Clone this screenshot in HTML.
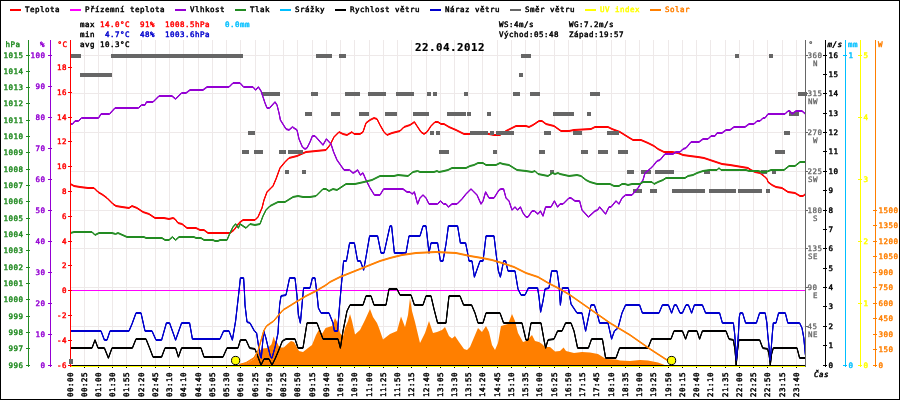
<!DOCTYPE html>
<html lang="cs"><head><meta charset="utf-8"><title>22.04.2012</title>
<style>html,body{margin:0;padding:0;background:#fff}svg{display:block;will-change:transform}text{font-family:"DejaVu Sans Mono","Liberation Mono",monospace;font-size:7.5px;white-space:pre;stroke-width:0.45px;letter-spacing:0.485px}.t{font-family:"DejaVu Sans Mono","Liberation Mono",monospace;font-weight:bold;font-size:10.8px;letter-spacing:0.5px;stroke-width:0.2px}.i{font-style:italic}</style></head><body>
<svg width="900" height="400" viewBox="0 0 900 400">
<rect x="0" y="0" width="900" height="400" fill="#fff"/>
<g stroke="#eee9e9" stroke-width="1" shape-rendering="crispEdges">
<line x1="84.5" y1="40" x2="84.5" y2="365"/>
<line x1="98.5" y1="40" x2="98.5" y2="365"/>
<line x1="112.5" y1="40" x2="112.5" y2="365"/>
<line x1="126.5" y1="40" x2="126.5" y2="365"/>
<line x1="141.5" y1="40" x2="141.5" y2="365"/>
<line x1="155.5" y1="40" x2="155.5" y2="365"/>
<line x1="169.5" y1="40" x2="169.5" y2="365"/>
<line x1="183.5" y1="40" x2="183.5" y2="365"/>
<line x1="198.5" y1="40" x2="198.5" y2="365"/>
<line x1="212.5" y1="40" x2="212.5" y2="365"/>
<line x1="226.5" y1="40" x2="226.5" y2="365"/>
<line x1="240.5" y1="40" x2="240.5" y2="365"/>
<line x1="255.5" y1="40" x2="255.5" y2="365"/>
<line x1="269.5" y1="40" x2="269.5" y2="365"/>
<line x1="283.5" y1="40" x2="283.5" y2="365"/>
<line x1="297.5" y1="40" x2="297.5" y2="365"/>
<line x1="312.5" y1="40" x2="312.5" y2="365"/>
<line x1="326.5" y1="40" x2="326.5" y2="365"/>
<line x1="340.5" y1="40" x2="340.5" y2="365"/>
<line x1="354.5" y1="40" x2="354.5" y2="365"/>
<line x1="369.5" y1="40" x2="369.5" y2="365"/>
<line x1="383.5" y1="40" x2="383.5" y2="365"/>
<line x1="397.5" y1="40" x2="397.5" y2="365"/>
<line x1="411.5" y1="40" x2="411.5" y2="365"/>
<line x1="426.5" y1="40" x2="426.5" y2="365"/>
<line x1="440.5" y1="40" x2="440.5" y2="365"/>
<line x1="454.5" y1="40" x2="454.5" y2="365"/>
<line x1="468.5" y1="40" x2="468.5" y2="365"/>
<line x1="482.5" y1="40" x2="482.5" y2="365"/>
<line x1="497.5" y1="40" x2="497.5" y2="365"/>
<line x1="511.5" y1="40" x2="511.5" y2="365"/>
<line x1="525.5" y1="40" x2="525.5" y2="365"/>
<line x1="539.5" y1="40" x2="539.5" y2="365"/>
<line x1="554.5" y1="40" x2="554.5" y2="365"/>
<line x1="568.5" y1="40" x2="568.5" y2="365"/>
<line x1="582.5" y1="40" x2="582.5" y2="365"/>
<line x1="596.5" y1="40" x2="596.5" y2="365"/>
<line x1="611.5" y1="40" x2="611.5" y2="365"/>
<line x1="625.5" y1="40" x2="625.5" y2="365"/>
<line x1="639.5" y1="40" x2="639.5" y2="365"/>
<line x1="653.5" y1="40" x2="653.5" y2="365"/>
<line x1="668.5" y1="40" x2="668.5" y2="365"/>
<line x1="682.5" y1="40" x2="682.5" y2="365"/>
<line x1="696.5" y1="40" x2="696.5" y2="365"/>
<line x1="710.5" y1="40" x2="710.5" y2="365"/>
<line x1="725.5" y1="40" x2="725.5" y2="365"/>
<line x1="739.5" y1="40" x2="739.5" y2="365"/>
<line x1="753.5" y1="40" x2="753.5" y2="365"/>
<line x1="767.5" y1="40" x2="767.5" y2="365"/>
<line x1="782.5" y1="40" x2="782.5" y2="365"/>
<line x1="796.5" y1="40" x2="796.5" y2="365"/>
<line x1="70" y1="55.5" x2="806" y2="55.5"/>
<line x1="70" y1="93.5" x2="806" y2="93.5"/>
<line x1="70" y1="132.5" x2="806" y2="132.5"/>
<line x1="70" y1="171.5" x2="806" y2="171.5"/>
<line x1="70" y1="210.5" x2="806" y2="210.5"/>
<line x1="70" y1="248.5" x2="806" y2="248.5"/>
<line x1="70" y1="287.5" x2="806" y2="287.5"/>
<line x1="70" y1="326.5" x2="806" y2="326.5"/>
</g>
<polygon fill="#ff7f00" points="238.0,365.5 246.5,363.5 253.7,359.3 256.5,355.7 258.7,351.4 262.3,348.6 268.0,347.9 271.5,344.3 273.7,336.4 275.0,340.7 277.3,342.9 279.4,347.4 283.7,347.4 288.0,343.6 291.0,341.0 294.0,342.0 299.0,351.0 303.0,352.0 308.0,348.0 312.0,345.0 316.0,335.0 319.0,329.4 322.0,334.0 325.6,328.0 332.0,326.0 335.0,318.0 337.6,323.0 340.0,333.0 343.0,336.6 345.0,328.0 348.0,321.0 350.0,314.0 352.0,321.0 355.0,334.6 360.0,330.0 365.0,320.0 370.0,309.0 373.0,317.0 377.0,323.0 379.0,328.0 383.0,339.4 390.0,334.0 397.0,331.0 401.0,316.6 405.0,327.0 408.0,315.0 410.0,298.0 412.0,311.0 415.0,322.0 420.0,343.0 425.0,333.0 429.0,321.0 433.0,333.0 437.0,332.0 442.0,330.0 445.0,327.0 449.0,336.0 452.0,338.6 455.0,336.0 459.0,342.0 464.0,349.0 467.0,350.0 470.0,347.0 474.0,337.4 478.0,328.0 482.0,332.0 486.0,326.0 489.0,332.0 492.0,345.0 495.0,350.0 498.0,343.0 501.0,326.0 508.0,324.0 512.0,314.0 515.0,321.0 518.0,333.0 523.0,342.0 526.0,341.0 532.0,335.0 535.0,341.0 539.0,342.0 542.0,344.0 545.0,347.0 550.0,347.0 555.0,351.6 560.0,351.0 563.6,347.4 566.0,351.0 574.0,353.0 582.0,352.0 590.0,352.6 598.0,354.0 606.0,359.0 616.0,359.4 620.0,360.6 630.0,361.0 640.0,360.0 648.0,360.6 658.0,362.6 666.0,365.5"/>
<line x1="70" y1="290.5" x2="805" y2="290.5" stroke="#ff00ff" stroke-width="1" shape-rendering="crispEdges"/>
<g fill="none" stroke="#ff0000" stroke-width="1" stroke-linejoin="round"><polyline id="c1" points="70.5,184.0 74.0,186.0 80.0,187.0 88.0,188.0 94.0,188.0 98.0,192.0 103.0,195.0 107.0,198.0 113.0,204.0 116.0,206.0 122.0,207.0 129.0,208.0 132.0,206.0 137.0,208.0 143.0,212.0 149.0,214.0 155.0,218.0 164.0,218.0 169.0,219.0 173.0,218.0 175.0,219.0 178.0,223.0 182.0,224.0 187.0,228.0 196.0,228.0 200.0,230.0 204.0,230.0 208.0,233.0 230.0,233.0 234.0,230.0 239.0,223.0 243.0,220.0 255.0,220.0 258.0,217.0 262.0,208.0 264.0,200.0 267.0,192.0 271.0,188.0 273.0,186.0 276.0,179.0 280.0,168.0 285.0,162.0 289.0,158.0 297.0,156.0 306.0,152.0 326.0,150.0 330.0,145.0 334.0,137.0 339.0,132.0 343.0,134.0 347.0,135.0 352.0,132.0 354.0,134.0 360.0,134.0 363.0,132.0 366.0,123.0 370.0,120.0 374.0,118.0 377.0,119.0 380.0,125.0 384.0,132.0 387.0,135.0 392.0,133.0 400.0,131.0 404.0,127.0 410.0,125.0 414.4,122.0 417.0,126.0 421.0,132.0 424.0,134.0 427.0,132.0 431.0,126.0 435.0,122.0 438.0,122.0 441.0,124.0 444.0,124.0 449.0,127.0 456.0,130.0 464.0,134.0 480.0,134.0 489.0,134.0 494.0,135.0 500.0,135.0 506.0,131.0 512.0,128.0 516.0,126.0 526.0,126.0 529.0,127.0 533.0,125.0 539.0,121.0 542.0,121.0 546.0,124.0 554.0,126.0 561.0,131.0 569.0,131.0 574.0,130.0 591.0,129.0 595.0,127.0 608.0,127.0 612.0,129.0 620.0,132.0 628.0,137.0 633.0,140.0 641.0,140.0 648.0,143.0 654.0,146.0 658.0,149.0 664.0,152.0 672.0,152.0 678.0,153.0 683.0,155.0 690.0,156.0 698.0,157.0 704.0,158.0 710.0,160.0 716.0,162.0 722.0,164.0 730.0,165.0 736.0,166.0 742.0,167.0 748.0,168.0 751.0,170.0 755.0,172.0 760.0,173.0 764.0,176.0 767.0,179.0 768.0,182.0 772.0,185.0 776.0,187.0 782.0,188.0 788.0,192.0 795.0,193.0 800.0,196.0 803.0,196.0 805.5,194.0"/><use href="#c1" y="-0.5"/><use href="#c1" y="0.5"/></g>
<g fill="#666666" shape-rendering="crispEdges">
<rect x="70" y="54" width="11" height="4"/>
<rect x="111" y="54" width="132" height="4"/>
<rect x="316" y="54" width="16" height="4"/>
<rect x="339" y="54" width="7" height="4"/>
<rect x="521" y="54" width="10" height="4"/>
<rect x="735" y="54" width="4" height="4"/>
<rect x="769" y="54" width="4" height="4"/>
<rect x="80" y="73" width="32" height="4"/>
<rect x="519" y="73" width="4" height="4"/>
<rect x="262" y="92" width="18" height="4"/>
<rect x="311" y="92" width="7" height="4"/>
<rect x="345" y="92" width="15" height="4"/>
<rect x="368" y="92" width="18" height="4"/>
<rect x="396" y="92" width="18" height="4"/>
<rect x="427" y="92" width="4" height="4"/>
<rect x="433" y="92" width="4" height="4"/>
<rect x="464" y="92" width="4" height="4"/>
<rect x="513" y="92" width="7" height="4"/>
<rect x="530" y="92" width="10" height="4"/>
<rect x="590" y="92" width="10" height="4"/>
<rect x="798" y="92" width="9" height="4"/>
<rect x="305" y="112" width="7" height="4"/>
<rect x="331" y="112" width="9" height="4"/>
<rect x="359" y="112" width="10" height="4"/>
<rect x="385" y="112" width="12" height="4"/>
<rect x="413" y="112" width="16" height="4"/>
<rect x="447" y="112" width="19" height="4"/>
<rect x="467" y="112" width="4" height="4"/>
<rect x="487" y="112" width="4" height="4"/>
<rect x="553" y="112" width="21" height="4"/>
<rect x="587" y="112" width="4" height="4"/>
<rect x="789" y="112" width="10" height="4"/>
<rect x="248" y="131" width="7" height="4"/>
<rect x="430" y="131" width="4" height="4"/>
<rect x="436" y="131" width="4" height="4"/>
<rect x="470" y="131" width="18" height="4"/>
<rect x="490" y="131" width="4" height="4"/>
<rect x="496" y="131" width="18" height="4"/>
<rect x="544" y="131" width="7" height="4"/>
<rect x="573" y="131" width="9" height="4"/>
<rect x="607" y="131" width="12" height="4"/>
<rect x="784" y="131" width="6" height="4"/>
<rect x="242" y="150" width="7" height="4"/>
<rect x="254" y="150" width="9" height="4"/>
<rect x="279" y="150" width="7" height="4"/>
<rect x="288" y="150" width="15" height="4"/>
<rect x="439" y="150" width="10" height="4"/>
<rect x="493" y="150" width="4" height="4"/>
<rect x="539" y="150" width="6" height="4"/>
<rect x="581" y="150" width="7" height="4"/>
<rect x="598" y="150" width="10" height="4"/>
<rect x="618" y="150" width="10" height="4"/>
<rect x="775" y="150" width="10" height="4"/>
<rect x="285" y="170" width="4" height="4"/>
<rect x="302" y="170" width="4" height="4"/>
<rect x="550" y="170" width="4" height="4"/>
<rect x="627" y="170" width="7" height="4"/>
<rect x="641" y="170" width="10" height="4"/>
<rect x="655" y="170" width="19" height="4"/>
<rect x="704" y="170" width="6" height="4"/>
<rect x="761" y="170" width="6" height="4"/>
<rect x="772" y="170" width="4" height="4"/>
<rect x="633" y="189" width="9" height="4"/>
<rect x="650" y="189" width="7" height="4"/>
<rect x="672" y="189" width="33" height="4"/>
<rect x="709" y="189" width="27" height="4"/>
<rect x="738" y="189" width="24" height="4"/>
<rect x="766" y="189" width="4" height="4"/>
</g>
<g fill="none" stroke="#9400d3" stroke-width="1" stroke-linejoin="round"><polyline id="c2" points="70.5,124.0 72.5,124.0 75.0,121.0 78.5,121.0 81.5,118.0 98.5,118.0 101.0,114.0 109.5,114.0 115.0,108.0 138.5,108.0 141.5,105.0 145.0,105.0 146.5,102.0 153.0,102.0 159.0,96.0 172.0,96.0 175.6,99.0 181.6,93.0 186.0,93.0 190.0,90.0 203.0,90.0 207.0,87.0 229.0,87.0 233.0,83.0 240.0,83.0 243.6,87.0 253.0,87.0 255.6,90.0 258.4,87.0 261.0,91.0 263.0,97.0 265.0,103.0 267.0,108.0 269.6,108.0 275.0,102.0 277.0,105.0 279.0,113.0 280.4,120.0 286.0,129.0 289.0,130.0 292.4,127.0 297.0,130.0 299.0,139.0 302.4,147.0 305.0,149.0 307.0,148.0 310.0,142.0 312.4,136.0 315.0,136.0 323.0,145.0 326.4,139.0 331.0,144.0 333.6,152.0 337.0,160.0 344.0,170.0 349.6,170.0 353.0,173.0 355.0,172.0 357.6,170.0 360.4,175.0 363.0,173.0 366.0,180.0 370.0,188.0 374.4,195.0 380.0,195.0 383.6,189.0 403.0,189.0 407.0,192.0 410.0,192.0 412.0,194.0 414.4,192.0 417.6,204.0 420.0,198.0 423.0,195.0 426.0,198.0 429.0,204.0 437.6,204.0 440.4,201.0 443.6,204.0 446.0,204.0 448.4,207.0 452.0,204.0 457.0,204.0 462.0,199.0 466.0,194.0 471.0,189.0 473.0,191.0 477.0,195.0 481.0,204.0 483.0,201.0 485.6,192.0 489.0,198.0 494.0,198.0 499.0,190.0 501.0,189.0 503.6,189.0 506.0,198.0 509.0,201.0 512.0,210.0 515.0,207.0 517.6,210.0 520.4,207.0 523.0,213.0 526.0,217.0 528.0,217.0 532.0,211.0 534.4,211.0 538.0,214.0 540.4,211.0 543.0,216.0 545.6,207.0 551.0,207.0 554.4,201.0 557.6,207.0 560.0,204.0 563.0,204.0 569.0,198.0 571.0,198.0 575.0,201.0 579.6,201.0 582.0,210.0 588.4,217.0 595.0,211.0 597.6,210.0 599.6,207.0 605.6,214.0 609.0,207.0 611.0,207.0 616.0,201.0 619.0,204.0 622.0,198.0 625.6,195.0 632.0,195.0 638.0,188.0 643.0,180.0 645.0,173.0 650.0,169.0 653.0,166.0 657.0,161.0 660.0,160.0 665.0,154.0 673.0,154.0 676.0,152.0 680.0,152.0 683.0,149.0 686.0,148.0 691.0,142.0 699.0,142.0 703.0,139.0 708.0,139.0 711.0,136.0 715.0,136.0 717.0,133.0 722.0,133.0 726.0,130.0 730.0,130.0 734.0,127.0 745.0,127.0 749.0,124.0 754.0,124.0 757.0,121.0 760.0,121.0 763.0,118.0 765.0,118.0 768.0,114.0 785.0,114.0 788.0,111.0 790.0,111.0 792.0,114.0 796.0,111.0 802.0,111.0 805.5,114.0"/><use href="#c2" y="-0.5"/><use href="#c2" y="0.5"/></g>
<g fill="none" stroke="#228b22" stroke-width="1" stroke-linejoin="round"><polyline id="c3" points="70.5,233.0 74.0,232.0 92.0,232.0 95.0,235.0 99.0,233.0 112.0,233.0 115.6,234.0 118.0,233.0 127.0,237.0 144.0,237.0 146.0,238.0 162.0,238.0 165.0,240.0 169.0,240.0 172.4,237.0 175.6,240.0 179.0,237.0 194.0,237.0 196.0,238.0 201.0,238.0 204.0,240.0 213.0,240.0 215.0,241.0 218.0,241.0 220.0,240.0 227.0,240.0 230.0,233.0 233.0,227.0 235.6,224.0 238.4,228.0 240.0,224.0 243.0,226.0 246.0,228.0 250.0,224.0 255.0,225.0 260.0,224.0 263.0,216.0 266.0,210.0 270.0,206.0 278.0,202.0 285.0,202.0 293.0,197.0 298.0,196.0 303.0,197.0 310.0,197.0 316.0,196.0 323.0,189.0 326.0,189.0 329.0,191.0 333.0,189.0 337.0,190.0 346.0,184.0 355.0,184.0 364.0,182.0 372.0,180.0 380.0,176.0 390.0,176.0 394.0,176.0 398.0,175.0 408.0,176.0 413.0,172.0 417.6,171.0 420.0,172.0 434.0,172.0 437.0,171.0 439.0,172.0 444.0,171.0 448.0,170.0 452.0,168.0 466.0,168.0 470.0,166.0 474.0,165.0 478.0,163.0 483.0,163.0 486.0,165.0 496.0,165.0 500.0,163.0 503.0,164.0 509.0,165.0 517.0,170.0 526.0,171.0 532.0,172.0 535.0,171.0 538.0,174.0 548.0,176.0 552.4,173.0 555.0,174.0 558.0,173.0 560.0,174.0 569.0,176.0 577.0,175.0 581.0,176.0 586.0,180.0 590.0,182.0 597.0,184.0 610.0,184.0 614.0,186.0 619.0,186.0 622.0,184.0 625.0,184.0 628.0,185.0 632.0,184.0 640.0,184.0 643.0,182.0 652.0,182.0 654.0,184.0 658.0,182.0 663.0,180.0 666.0,178.0 685.0,178.0 688.0,176.0 693.0,175.0 697.0,173.0 700.0,172.0 703.0,171.0 710.0,170.0 717.0,170.0 719.0,168.0 721.0,170.0 746.0,170.0 749.0,171.0 758.0,171.0 762.0,172.0 766.0,172.0 771.0,170.0 784.0,170.0 789.0,166.0 795.0,166.0 800.0,162.0 805.5,162.0"/><use href="#c3" y="-0.5"/><use href="#c3" y="0.5"/></g>
<g fill="none" stroke="#000000" stroke-width="1" stroke-linejoin="round"><polyline id="c4" points="70.5,348.0 92.0,348.0 95.0,340.0 98.0,348.0 104.4,348.0 108.4,358.0 112.0,348.0 132.4,348.0 136.0,339.0 146.0,339.0 149.6,348.0 153.0,357.0 161.6,357.0 165.0,348.0 175.6,348.0 178.4,357.0 181.6,348.0 201.0,348.0 204.0,357.0 223.0,357.0 227.0,348.0 238.0,348.0 240.4,340.0 246.0,340.0 249.6,348.0 255.0,349.0 258.0,357.0 261.0,365.0 264.0,359.0 269.0,359.0 272.0,365.0 275.0,359.0 278.0,352.0 282.4,341.0 286.0,339.0 295.0,339.0 298.0,348.0 303.0,348.0 307.0,323.0 317.0,323.0 323.0,339.0 338.0,339.0 340.4,348.0 343.0,331.0 347.0,311.0 350.0,305.0 363.0,305.0 366.0,296.0 371.0,296.0 374.0,305.0 386.0,305.0 389.0,289.0 397.0,289.0 400.0,295.0 411.0,295.0 414.4,305.0 423.0,305.0 426.0,296.0 431.0,296.0 434.0,309.0 437.6,323.0 446.0,323.0 449.0,296.0 460.0,296.0 463.6,305.0 471.6,305.0 475.0,313.0 478.0,323.0 483.0,323.0 486.0,313.0 500.0,313.0 503.6,323.0 522.0,323.0 526.0,340.0 528.0,340.0 531.0,323.0 541.0,323.0 544.0,340.0 545.6,348.0 548.0,340.0 554.0,339.0 557.6,331.0 562.0,331.0 565.6,323.0 571.0,323.0 574.0,331.0 577.6,348.0 588.4,348.0 591.6,339.0 602.4,339.0 605.6,358.0 616.0,358.0 619.6,348.0 648.0,348.0 651.6,339.0 671.0,339.0 674.0,331.0 682.4,331.0 685.6,339.0 688.4,331.0 697.0,331.0 699.6,339.0 702.4,331.0 726.0,331.0 729.0,339.0 733.4,340.0 735.0,350.0 736.2,365.0 737.6,350.0 738.8,340.0 759.7,340.0 762.7,348.0 767.7,349.0 769.1,355.0 770.3,365.0 771.6,354.0 773.3,348.0 797.0,348.0 799.6,358.0 805.5,358.0"/><use href="#c4" y="-0.5"/><use href="#c4" y="0.5"/></g>
<g fill="none" stroke="#0000cd" stroke-width="1" stroke-linejoin="round"><polyline id="c5" points="70.5,331.0 101.0,331.0 104.4,340.0 107.0,340.0 110.0,331.0 129.0,331.0 132.0,324.0 136.0,313.0 141.0,313.0 145.0,331.0 152.0,331.0 156.0,340.0 161.6,340.0 166.4,323.0 169.6,323.0 175.6,340.0 181.6,323.0 189.6,323.0 192.4,339.0 220.0,339.0 223.6,331.0 229.0,331.0 232.4,340.0 235.6,321.0 239.0,291.0 240.4,278.0 243.6,278.0 244.4,291.0 245.0,305.0 247.0,322.0 250.0,323.0 254.4,331.0 256.6,333.0 258.7,347.0 260.6,357.0 261.3,358.0 263.7,331.0 265.9,338.0 268.0,347.0 270.6,357.0 272.0,358.0 275.1,347.0 278.0,333.0 279.6,305.0 281.0,296.0 286.0,295.0 289.6,278.0 295.0,278.0 297.0,296.0 298.4,315.0 300.4,323.0 302.0,305.0 303.6,288.0 310.0,288.0 312.4,278.0 315.0,278.0 317.0,294.0 318.4,308.0 321.0,313.0 329.0,313.0 333.0,323.0 334.4,331.0 337.6,331.0 339.6,305.0 341.0,289.0 343.6,261.0 346.4,261.0 349.6,243.0 354.4,243.0 357.6,261.0 360.4,261.0 363.6,270.0 366.0,257.0 369.6,236.0 377.6,236.0 381.0,253.0 384.0,253.0 390.0,226.0 391.6,226.0 394.4,253.0 406.0,253.0 409.0,236.0 420.0,236.0 423.0,226.0 426.0,226.0 428.0,244.0 429.0,253.0 431.0,243.0 437.6,243.0 440.4,261.0 443.0,261.0 446.0,244.0 448.4,226.0 457.6,226.0 460.4,243.0 465.6,243.0 467.6,253.0 469.0,261.0 472.0,261.0 474.4,277.0 480.0,261.0 483.0,261.0 484.0,253.0 486.0,236.0 494.0,236.0 496.0,253.0 497.0,261.0 498.4,271.0 500.4,277.0 503.6,261.0 505.6,261.0 508.0,271.0 515.0,271.0 518.0,289.0 521.0,295.0 525.0,295.0 528.4,288.0 537.6,288.0 539.0,297.0 540.6,312.0 543.0,301.0 545.0,289.0 549.0,288.0 551.6,271.0 557.0,271.0 559.0,285.0 560.4,305.0 562.4,288.0 568.4,288.0 571.0,304.0 577.0,313.0 582.0,313.0 585.6,331.0 591.0,305.0 594.4,305.0 597.0,313.0 599.6,323.0 608.0,323.0 611.6,339.0 614.4,331.0 618.0,328.0 622.0,313.0 625.6,305.0 639.6,305.0 642.4,313.0 659.0,313.0 662.4,305.0 668.4,305.0 671.6,313.0 674.4,305.0 676.4,305.0 680.0,313.0 682.4,313.0 686.0,305.0 688.4,305.0 691.6,313.0 694.4,305.0 702.4,305.0 705.6,313.0 719.6,313.0 722.4,323.0 733.4,323.0 734.7,334.0 735.9,350.0 736.4,360.0 737.2,350.0 738.4,334.0 739.3,317.0 740.1,313.0 742.6,313.0 745.6,323.0 756.4,323.0 759.6,313.0 765.2,313.0 766.9,323.0 767.7,334.0 769.4,350.0 770.2,360.0 771.1,350.0 772.3,334.0 773.3,323.0 776.0,323.0 778.6,313.0 785.3,313.0 787.8,323.0 799.6,323.0 802.0,328.0 803.8,338.0 805.4,355.0"/><use href="#c5" y="-0.5"/><use href="#c5" y="0.5"/></g>
<g fill="none" stroke="#ff7f00" stroke-width="1" stroke-linejoin="round"><polyline id="c6" points="239.0,365.0 246.0,363.0 254.0,358.0 258.0,351.0 260.0,344.0 263.7,331.0 266.5,326.0 273.7,321.0 278.7,315.0 283.0,310.0 288.0,307.0 296.0,302.0 306.0,296.0 316.0,291.0 326.0,285.0 330.0,282.0 340.0,277.0 350.0,273.0 360.0,269.0 370.0,265.0 380.0,261.0 390.0,258.0 402.0,255.0 416.0,253.0 436.0,252.0 456.0,253.0 470.0,256.0 482.0,258.0 492.0,260.0 502.0,263.0 514.0,267.0 526.0,273.0 538.0,277.0 550.0,284.0 560.0,289.0 570.0,295.0 590.0,309.0 610.0,323.0 630.0,335.0 650.0,349.0 670.0,362.0"/><use href="#c6" y="-0.5"/><use href="#c6" y="0.5"/></g>
<g shape-rendering="crispEdges">
<rect x="70" y="366" width="736" height="1" fill="#ffff00"/>
<rect x="70" y="365" width="736" height="1" fill="#000"/>
<rect x="84" y="367" width="1" height="1" fill="#000"/>
<rect x="98" y="367" width="1" height="1" fill="#000"/>
<rect x="112" y="367" width="1" height="1" fill="#000"/>
<rect x="126" y="367" width="1" height="1" fill="#000"/>
<rect x="141" y="367" width="1" height="1" fill="#000"/>
<rect x="155" y="367" width="1" height="1" fill="#000"/>
<rect x="169" y="367" width="1" height="1" fill="#000"/>
<rect x="183" y="367" width="1" height="1" fill="#000"/>
<rect x="198" y="367" width="1" height="1" fill="#000"/>
<rect x="212" y="367" width="1" height="1" fill="#000"/>
<rect x="226" y="367" width="1" height="1" fill="#000"/>
<rect x="240" y="367" width="1" height="1" fill="#000"/>
<rect x="255" y="367" width="1" height="1" fill="#000"/>
<rect x="269" y="367" width="1" height="1" fill="#000"/>
<rect x="283" y="367" width="1" height="1" fill="#000"/>
<rect x="297" y="367" width="1" height="1" fill="#000"/>
<rect x="312" y="367" width="1" height="1" fill="#000"/>
<rect x="326" y="367" width="1" height="1" fill="#000"/>
<rect x="340" y="367" width="1" height="1" fill="#000"/>
<rect x="354" y="367" width="1" height="1" fill="#000"/>
<rect x="369" y="367" width="1" height="1" fill="#000"/>
<rect x="383" y="367" width="1" height="1" fill="#000"/>
<rect x="397" y="367" width="1" height="1" fill="#000"/>
<rect x="411" y="367" width="1" height="1" fill="#000"/>
<rect x="426" y="367" width="1" height="1" fill="#000"/>
<rect x="440" y="367" width="1" height="1" fill="#000"/>
<rect x="454" y="367" width="1" height="1" fill="#000"/>
<rect x="468" y="367" width="1" height="1" fill="#000"/>
<rect x="482" y="367" width="1" height="1" fill="#000"/>
<rect x="497" y="367" width="1" height="1" fill="#000"/>
<rect x="511" y="367" width="1" height="1" fill="#000"/>
<rect x="525" y="367" width="1" height="1" fill="#000"/>
<rect x="539" y="367" width="1" height="1" fill="#000"/>
<rect x="554" y="367" width="1" height="1" fill="#000"/>
<rect x="568" y="367" width="1" height="1" fill="#000"/>
<rect x="582" y="367" width="1" height="1" fill="#000"/>
<rect x="596" y="367" width="1" height="1" fill="#000"/>
<rect x="611" y="367" width="1" height="1" fill="#000"/>
<rect x="625" y="367" width="1" height="1" fill="#000"/>
<rect x="639" y="367" width="1" height="1" fill="#000"/>
<rect x="653" y="367" width="1" height="1" fill="#000"/>
<rect x="668" y="367" width="1" height="1" fill="#000"/>
<rect x="682" y="367" width="1" height="1" fill="#000"/>
<rect x="696" y="367" width="1" height="1" fill="#000"/>
<rect x="710" y="367" width="1" height="1" fill="#000"/>
<rect x="725" y="367" width="1" height="1" fill="#000"/>
<rect x="739" y="367" width="1" height="1" fill="#000"/>
<rect x="753" y="367" width="1" height="1" fill="#000"/>
<rect x="767" y="367" width="1" height="1" fill="#000"/>
<rect x="782" y="367" width="1" height="1" fill="#000"/>
<rect x="796" y="367" width="1" height="1" fill="#000"/>
</g>
<circle cx="235.6" cy="360.5" r="4.1" fill="#ffff00" stroke="#000" stroke-width="1"/>
<circle cx="671.6" cy="360.5" r="4.1" fill="#ffff00" stroke="#000" stroke-width="1"/>
<g fill="#228b22" shape-rendering="crispEdges">
<rect x="28" y="40" width="1" height="327"/>
<rect x="26" y="365" width="4" height="1"/>
<rect x="26" y="348" width="4" height="1"/>
<rect x="26" y="332" width="4" height="1"/>
<rect x="26" y="316" width="4" height="1"/>
<rect x="26" y="299" width="4" height="1"/>
<rect x="26" y="283" width="4" height="1"/>
<rect x="26" y="267" width="4" height="1"/>
<rect x="26" y="250" width="4" height="1"/>
<rect x="26" y="234" width="4" height="1"/>
<rect x="26" y="218" width="4" height="1"/>
<rect x="26" y="201" width="4" height="1"/>
<rect x="26" y="185" width="4" height="1"/>
<rect x="26" y="169" width="4" height="1"/>
<rect x="26" y="152" width="4" height="1"/>
<rect x="26" y="136" width="4" height="1"/>
<rect x="26" y="120" width="4" height="1"/>
<rect x="26" y="103" width="4" height="1"/>
<rect x="26" y="87" width="4" height="1"/>
<rect x="26" y="71" width="4" height="1"/>
<rect x="26" y="55" width="4" height="1"/>
</g>
<text x="23.5" y="368.0" fill="#228b22" stroke="#228b22" text-anchor="end">996</text>
<text x="23.5" y="351.0" fill="#228b22" stroke="#228b22" text-anchor="end">997</text>
<text x="23.5" y="335.0" fill="#228b22" stroke="#228b22" text-anchor="end">998</text>
<text x="23.5" y="319.0" fill="#228b22" stroke="#228b22" text-anchor="end">999</text>
<text x="23.5" y="302.0" fill="#228b22" stroke="#228b22" text-anchor="end">1000</text>
<text x="23.5" y="286.0" fill="#228b22" stroke="#228b22" text-anchor="end">1001</text>
<text x="23.5" y="270.0" fill="#228b22" stroke="#228b22" text-anchor="end">1002</text>
<text x="23.5" y="253.0" fill="#228b22" stroke="#228b22" text-anchor="end">1003</text>
<text x="23.5" y="237.0" fill="#228b22" stroke="#228b22" text-anchor="end">1004</text>
<text x="23.5" y="221.0" fill="#228b22" stroke="#228b22" text-anchor="end">1005</text>
<text x="23.5" y="204.0" fill="#228b22" stroke="#228b22" text-anchor="end">1006</text>
<text x="23.5" y="188.0" fill="#228b22" stroke="#228b22" text-anchor="end">1007</text>
<text x="23.5" y="172.0" fill="#228b22" stroke="#228b22" text-anchor="end">1008</text>
<text x="23.5" y="155.0" fill="#228b22" stroke="#228b22" text-anchor="end">1009</text>
<text x="23.5" y="139.0" fill="#228b22" stroke="#228b22" text-anchor="end">1010</text>
<text x="23.5" y="123.0" fill="#228b22" stroke="#228b22" text-anchor="end">1011</text>
<text x="23.5" y="106.0" fill="#228b22" stroke="#228b22" text-anchor="end">1012</text>
<text x="23.5" y="90.0" fill="#228b22" stroke="#228b22" text-anchor="end">1013</text>
<text x="23.5" y="74.0" fill="#228b22" stroke="#228b22" text-anchor="end">1014</text>
<text x="23.5" y="58.0" fill="#228b22" stroke="#228b22" text-anchor="end">1015</text>
<text x="5.5" y="47" fill="#228b22" stroke="#228b22">hPa</text>
<g fill="#9400d3" shape-rendering="crispEdges">
<rect x="50" y="40" width="1" height="327"/>
<rect x="48" y="365" width="4" height="1"/>
<rect x="48" y="334" width="4" height="1"/>
<rect x="48" y="303" width="4" height="1"/>
<rect x="48" y="272" width="4" height="1"/>
<rect x="48" y="241" width="4" height="1"/>
<rect x="48" y="210" width="4" height="1"/>
<rect x="48" y="179" width="4" height="1"/>
<rect x="48" y="148" width="4" height="1"/>
<rect x="48" y="117" width="4" height="1"/>
<rect x="48" y="86" width="4" height="1"/>
<rect x="48" y="55" width="4" height="1"/>
</g>
<text x="45.5" y="368.0" fill="#9400d3" stroke="#9400d3" text-anchor="end">0</text>
<text x="45.5" y="337.0" fill="#9400d3" stroke="#9400d3" text-anchor="end">10</text>
<text x="45.5" y="306.0" fill="#9400d3" stroke="#9400d3" text-anchor="end">20</text>
<text x="45.5" y="275.0" fill="#9400d3" stroke="#9400d3" text-anchor="end">30</text>
<text x="45.5" y="244.0" fill="#9400d3" stroke="#9400d3" text-anchor="end">40</text>
<text x="45.5" y="213.0" fill="#9400d3" stroke="#9400d3" text-anchor="end">50</text>
<text x="45.5" y="182.0" fill="#9400d3" stroke="#9400d3" text-anchor="end">60</text>
<text x="45.5" y="151.0" fill="#9400d3" stroke="#9400d3" text-anchor="end">70</text>
<text x="45.5" y="120.0" fill="#9400d3" stroke="#9400d3" text-anchor="end">80</text>
<text x="45.5" y="89.0" fill="#9400d3" stroke="#9400d3" text-anchor="end">90</text>
<text x="45.5" y="58.0" fill="#9400d3" stroke="#9400d3" text-anchor="end">100</text>
<text x="40" y="47" fill="#9400d3" stroke="#9400d3">%</text>
<g fill="#ff0000" shape-rendering="crispEdges">
<rect x="70" y="40" width="1" height="327"/>
<rect x="68" y="365" width="4" height="1"/>
<rect x="68" y="340" width="4" height="1"/>
<rect x="68" y="315" width="4" height="1"/>
<rect x="68" y="290" width="4" height="1"/>
<rect x="68" y="265" width="4" height="1"/>
<rect x="68" y="241" width="4" height="1"/>
<rect x="68" y="216" width="4" height="1"/>
<rect x="68" y="191" width="4" height="1"/>
<rect x="68" y="166" width="4" height="1"/>
<rect x="68" y="141" width="4" height="1"/>
<rect x="68" y="117" width="4" height="1"/>
<rect x="68" y="92" width="4" height="1"/>
<rect x="68" y="67" width="4" height="1"/>
</g>
<text x="57.5" y="47" fill="#ff0000" stroke="#ff0000">°C</text>
<text x="67" y="368.0" fill="#ff0000" stroke="#ff0000" text-anchor="end">-6</text>
<text x="67" y="343.0" fill="#ff0000" stroke="#ff0000" text-anchor="end">-4</text>
<text x="67" y="318.0" fill="#ff0000" stroke="#ff0000" text-anchor="end">-2</text>
<text x="67" y="293.0" fill="#ff0000" stroke="#ff0000" text-anchor="end">0</text>
<text x="67" y="268.0" fill="#ff0000" stroke="#ff0000" text-anchor="end">2</text>
<text x="67" y="244.0" fill="#ff0000" stroke="#ff0000" text-anchor="end">4</text>
<text x="67" y="219.0" fill="#ff0000" stroke="#ff0000" text-anchor="end">6</text>
<text x="67" y="194.0" fill="#ff0000" stroke="#ff0000" text-anchor="end">8</text>
<text x="67" y="169.0" fill="#ff0000" stroke="#ff0000" text-anchor="end">10</text>
<text x="67" y="144.0" fill="#ff0000" stroke="#ff0000" text-anchor="end">12</text>
<text x="67" y="120.0" fill="#ff0000" stroke="#ff0000" text-anchor="end">14</text>
<text x="67" y="95.0" fill="#ff0000" stroke="#ff0000" text-anchor="end">16</text>
<text x="67" y="70.0" fill="#ff0000" stroke="#ff0000" text-anchor="end">18</text>
<g fill="#666666" shape-rendering="crispEdges"><rect x="805" y="40" width="1" height="327"/>
<rect x="805" y="326" width="3" height="1"/>
<rect x="805" y="287" width="3" height="1"/>
<rect x="805" y="248" width="3" height="1"/>
<rect x="805" y="210" width="3" height="1"/>
<rect x="805" y="171" width="3" height="1"/>
<rect x="805" y="132" width="3" height="1"/>
<rect x="805" y="93" width="3" height="1"/>
<rect x="805" y="55" width="3" height="1"/>
</g>
<text x="807.6" y="329.0" fill="#666666" stroke="#666666" style="stroke-width:.3px">45</text>
<text x="818" y="337.0" fill="#666666" stroke="#666666" text-anchor="end" style="stroke-width:.3px">NE</text>
<text x="807.6" y="290.0" fill="#666666" stroke="#666666" style="stroke-width:.3px">90</text>
<text x="818" y="298.0" fill="#666666" stroke="#666666" text-anchor="end" style="stroke-width:.3px">E</text>
<text x="807.6" y="251.0" fill="#666666" stroke="#666666" style="stroke-width:.3px">135</text>
<text x="818" y="259.0" fill="#666666" stroke="#666666" text-anchor="end" style="stroke-width:.3px">SE</text>
<text x="807.6" y="213.0" fill="#666666" stroke="#666666" style="stroke-width:.3px">180</text>
<text x="818" y="221.0" fill="#666666" stroke="#666666" text-anchor="end" style="stroke-width:.3px">S</text>
<text x="807.6" y="174.0" fill="#666666" stroke="#666666" style="stroke-width:.3px">225</text>
<text x="818" y="182.0" fill="#666666" stroke="#666666" text-anchor="end" style="stroke-width:.3px">SW</text>
<text x="807.6" y="135.0" fill="#666666" stroke="#666666" style="stroke-width:.3px">270</text>
<text x="818" y="143.0" fill="#666666" stroke="#666666" text-anchor="end" style="stroke-width:.3px">W</text>
<text x="807.6" y="96.0" fill="#666666" stroke="#666666" style="stroke-width:.3px">315</text>
<text x="818" y="104.0" fill="#666666" stroke="#666666" text-anchor="end" style="stroke-width:.3px">NW</text>
<text x="807.6" y="58.0" fill="#666666" stroke="#666666" style="stroke-width:.3px">360</text>
<text x="818" y="66.0" fill="#666666" stroke="#666666" text-anchor="end" style="stroke-width:.3px">N</text>
<text x="808.5" y="47" fill="#666666" stroke="#666666">°</text>
<g fill="#000000" shape-rendering="crispEdges">
<rect x="825" y="40" width="1" height="327"/>
<rect x="823" y="365" width="4" height="1"/>
<rect x="823" y="345" width="4" height="1"/>
<rect x="823" y="326" width="4" height="1"/>
<rect x="823" y="306" width="4" height="1"/>
<rect x="823" y="287" width="4" height="1"/>
<rect x="823" y="268" width="4" height="1"/>
<rect x="823" y="248" width="4" height="1"/>
<rect x="823" y="229" width="4" height="1"/>
<rect x="823" y="210" width="4" height="1"/>
<rect x="823" y="190" width="4" height="1"/>
<rect x="823" y="171" width="4" height="1"/>
<rect x="823" y="151" width="4" height="1"/>
<rect x="823" y="132" width="4" height="1"/>
<rect x="823" y="113" width="4" height="1"/>
<rect x="823" y="93" width="4" height="1"/>
<rect x="823" y="74" width="4" height="1"/>
<rect x="823" y="55" width="4" height="1"/>
</g>
<text x="828.5" y="368.0" fill="#000000" stroke="#000000">0</text>
<text x="828.5" y="348.0" fill="#000000" stroke="#000000">1</text>
<text x="828.5" y="329.0" fill="#000000" stroke="#000000">2</text>
<text x="828.5" y="309.0" fill="#000000" stroke="#000000">3</text>
<text x="828.5" y="290.0" fill="#000000" stroke="#000000">4</text>
<text x="828.5" y="271.0" fill="#000000" stroke="#000000">5</text>
<text x="828.5" y="251.0" fill="#000000" stroke="#000000">6</text>
<text x="828.5" y="232.0" fill="#000000" stroke="#000000">7</text>
<text x="828.5" y="213.0" fill="#000000" stroke="#000000">8</text>
<text x="828.5" y="193.0" fill="#000000" stroke="#000000">9</text>
<text x="828.5" y="174.0" fill="#000000" stroke="#000000">10</text>
<text x="828.5" y="154.0" fill="#000000" stroke="#000000">11</text>
<text x="828.5" y="135.0" fill="#000000" stroke="#000000">12</text>
<text x="828.5" y="116.0" fill="#000000" stroke="#000000">13</text>
<text x="828.5" y="96.0" fill="#000000" stroke="#000000">14</text>
<text x="828.5" y="77.0" fill="#000000" stroke="#000000">15</text>
<text x="828.5" y="58.0" fill="#000000" stroke="#000000">16</text>
<text x="827.5" y="47" fill="#000000" stroke="#000000" class="i">m/s</text>
<g fill="#00bfff" shape-rendering="crispEdges">
<rect x="845" y="40" width="1" height="327"/>
<rect x="843" y="365" width="4" height="1"/>
<rect x="843" y="55" width="4" height="1"/>
</g>
<text x="848.5" y="368.0" fill="#00bfff" stroke="#00bfff">0</text>
<text x="848.5" y="58.0" fill="#00bfff" stroke="#00bfff">1</text>
<text x="848" y="47" fill="#00bfff" stroke="#00bfff">mm</text>
<g fill="#ffff00" shape-rendering="crispEdges">
<rect x="860" y="40" width="1" height="327"/>
<rect x="858" y="365" width="4" height="1"/>
<rect x="858" y="303" width="4" height="1"/>
<rect x="858" y="241" width="4" height="1"/>
<rect x="858" y="179" width="4" height="1"/>
<rect x="858" y="117" width="4" height="1"/>
<rect x="858" y="55" width="4" height="1"/>
</g>
<text x="863.5" y="368.0" fill="#ffff00" stroke="#ffff00">0</text>
<text x="863.5" y="306.0" fill="#ffff00" stroke="#ffff00">1</text>
<text x="863.5" y="244.0" fill="#ffff00" stroke="#ffff00">2</text>
<text x="863.5" y="182.0" fill="#ffff00" stroke="#ffff00">3</text>
<text x="863.5" y="120.0" fill="#ffff00" stroke="#ffff00">4</text>
<text x="863.5" y="58.0" fill="#ffff00" stroke="#ffff00">5</text>
<g fill="#ff7f00" shape-rendering="crispEdges">
<rect x="875" y="40" width="1" height="327"/>
<rect x="873" y="365" width="4" height="1"/>
<rect x="873" y="349" width="4" height="1"/>
<rect x="873" y="334" width="4" height="1"/>
<rect x="873" y="318" width="4" height="1"/>
<rect x="873" y="303" width="4" height="1"/>
<rect x="873" y="287" width="4" height="1"/>
<rect x="873" y="272" width="4" height="1"/>
<rect x="873" y="256" width="4" height="1"/>
<rect x="873" y="241" width="4" height="1"/>
<rect x="873" y="225" width="4" height="1"/>
<rect x="873" y="210" width="4" height="1"/>
</g>
<text x="878.5" y="368.0" fill="#ff7f00" stroke="#ff7f00">0</text>
<text x="878.5" y="352.0" fill="#ff7f00" stroke="#ff7f00">150</text>
<text x="878.5" y="337.0" fill="#ff7f00" stroke="#ff7f00">300</text>
<text x="878.5" y="321.0" fill="#ff7f00" stroke="#ff7f00">450</text>
<text x="878.5" y="306.0" fill="#ff7f00" stroke="#ff7f00">600</text>
<text x="878.5" y="290.0" fill="#ff7f00" stroke="#ff7f00">750</text>
<text x="878.5" y="275.0" fill="#ff7f00" stroke="#ff7f00">900</text>
<text x="878.5" y="259.0" fill="#ff7f00" stroke="#ff7f00">1050</text>
<text x="878.5" y="244.0" fill="#ff7f00" stroke="#ff7f00">1200</text>
<text x="878.5" y="228.0" fill="#ff7f00" stroke="#ff7f00">1350</text>
<text x="878.5" y="213.0" fill="#ff7f00" stroke="#ff7f00">1500</text>
<text x="878" y="47" fill="#ff7f00" stroke="#ff7f00">W</text>
<rect x="69" y="359" width="4" height="5" fill="#666666" shape-rendering="crispEdges"/>
<text transform="translate(72.7,397) rotate(-90)" fill="#000" stroke="#000">00:00</text>
<text transform="translate(86.7,397) rotate(-90)" fill="#000" stroke="#000">00:25</text>
<text transform="translate(100.7,397) rotate(-90)" fill="#000" stroke="#000">01:00</text>
<text transform="translate(114.7,397) rotate(-90)" fill="#000" stroke="#000">01:30</text>
<text transform="translate(128.7,397) rotate(-90)" fill="#000" stroke="#000">01:55</text>
<text transform="translate(143.7,397) rotate(-90)" fill="#000" stroke="#000">02:20</text>
<text transform="translate(157.7,397) rotate(-90)" fill="#000" stroke="#000">02:45</text>
<text transform="translate(171.7,397) rotate(-90)" fill="#000" stroke="#000">03:10</text>
<text transform="translate(185.7,397) rotate(-90)" fill="#000" stroke="#000">04:10</text>
<text transform="translate(200.7,397) rotate(-90)" fill="#000" stroke="#000">04:40</text>
<text transform="translate(214.7,397) rotate(-90)" fill="#000" stroke="#000">05:05</text>
<text transform="translate(228.7,397) rotate(-90)" fill="#000" stroke="#000">05:30</text>
<text transform="translate(242.7,397) rotate(-90)" fill="#000" stroke="#000">06:00</text>
<text transform="translate(257.7,397) rotate(-90)" fill="#000" stroke="#000">06:25</text>
<text transform="translate(271.7,397) rotate(-90)" fill="#000" stroke="#000">07:50</text>
<text transform="translate(285.7,397) rotate(-90)" fill="#000" stroke="#000">08:25</text>
<text transform="translate(299.7,397) rotate(-90)" fill="#000" stroke="#000">08:50</text>
<text transform="translate(314.7,397) rotate(-90)" fill="#000" stroke="#000">09:15</text>
<text transform="translate(328.7,397) rotate(-90)" fill="#000" stroke="#000">09:40</text>
<text transform="translate(342.7,397) rotate(-90)" fill="#000" stroke="#000">10:05</text>
<text transform="translate(356.7,397) rotate(-90)" fill="#000" stroke="#000">10:30</text>
<text transform="translate(371.7,397) rotate(-90)" fill="#000" stroke="#000">11:00</text>
<text transform="translate(385.7,397) rotate(-90)" fill="#000" stroke="#000">11:25</text>
<text transform="translate(399.7,397) rotate(-90)" fill="#000" stroke="#000">11:50</text>
<text transform="translate(413.7,397) rotate(-90)" fill="#000" stroke="#000">12:15</text>
<text transform="translate(428.7,397) rotate(-90)" fill="#000" stroke="#000">12:40</text>
<text transform="translate(442.7,397) rotate(-90)" fill="#000" stroke="#000">13:05</text>
<text transform="translate(456.7,397) rotate(-90)" fill="#000" stroke="#000">13:30</text>
<text transform="translate(470.7,397) rotate(-90)" fill="#000" stroke="#000">13:55</text>
<text transform="translate(484.7,397) rotate(-90)" fill="#000" stroke="#000">14:20</text>
<text transform="translate(499.7,397) rotate(-90)" fill="#000" stroke="#000">14:45</text>
<text transform="translate(513.7,397) rotate(-90)" fill="#000" stroke="#000">15:10</text>
<text transform="translate(527.7,397) rotate(-90)" fill="#000" stroke="#000">15:35</text>
<text transform="translate(541.7,397) rotate(-90)" fill="#000" stroke="#000">16:00</text>
<text transform="translate(556.7,397) rotate(-90)" fill="#000" stroke="#000">16:25</text>
<text transform="translate(570.7,397) rotate(-90)" fill="#000" stroke="#000">16:50</text>
<text transform="translate(584.7,397) rotate(-90)" fill="#000" stroke="#000">17:15</text>
<text transform="translate(598.7,397) rotate(-90)" fill="#000" stroke="#000">17:45</text>
<text transform="translate(613.7,397) rotate(-90)" fill="#000" stroke="#000">18:10</text>
<text transform="translate(627.7,397) rotate(-90)" fill="#000" stroke="#000">18:35</text>
<text transform="translate(641.7,397) rotate(-90)" fill="#000" stroke="#000">19:00</text>
<text transform="translate(655.7,397) rotate(-90)" fill="#000" stroke="#000">19:25</text>
<text transform="translate(670.7,397) rotate(-90)" fill="#000" stroke="#000">19:50</text>
<text transform="translate(684.7,397) rotate(-90)" fill="#000" stroke="#000">20:15</text>
<text transform="translate(698.7,397) rotate(-90)" fill="#000" stroke="#000">20:40</text>
<text transform="translate(712.7,397) rotate(-90)" fill="#000" stroke="#000">21:10</text>
<text transform="translate(727.7,397) rotate(-90)" fill="#000" stroke="#000">21:35</text>
<text transform="translate(741.7,397) rotate(-90)" fill="#000" stroke="#000">22:00</text>
<text transform="translate(755.7,397) rotate(-90)" fill="#000" stroke="#000">22:25</text>
<text transform="translate(769.7,397) rotate(-90)" fill="#000" stroke="#000">22:50</text>
<text transform="translate(784.7,397) rotate(-90)" fill="#000" stroke="#000">23:15</text>
<text transform="translate(798.7,397) rotate(-90)" fill="#000" stroke="#000">23:40</text>
<text x="814" y="377" fill="#000" stroke="#000" class="i">Čas</text>
<rect x="10" y="9" width="11" height="2" fill="#ff0000" shape-rendering="crispEdges"/>
<text x="25" y="12" fill="#000" stroke="#000">Teplota</text>
<rect x="70" y="9" width="11" height="2" fill="#ff00ff" shape-rendering="crispEdges"/>
<text x="85" y="12" fill="#000" stroke="#000">Přízemní teplota</text>
<rect x="175" y="9" width="11" height="2" fill="#9400d3" shape-rendering="crispEdges"/>
<text x="190" y="12" fill="#000" stroke="#000">Vlhkost</text>
<rect x="235" y="9" width="11" height="2" fill="#228b22" shape-rendering="crispEdges"/>
<text x="250" y="12" fill="#000" stroke="#000">Tlak</text>
<rect x="280" y="9" width="11" height="2" fill="#00bfff" shape-rendering="crispEdges"/>
<text x="295" y="12" fill="#000" stroke="#000">Srážky</text>
<rect x="335" y="9" width="11" height="2" fill="#000000" shape-rendering="crispEdges"/>
<text x="350" y="12" fill="#000" stroke="#000">Rychlost větru</text>
<rect x="430" y="9" width="11" height="2" fill="#0000cd" shape-rendering="crispEdges"/>
<text x="445" y="12" fill="#000" stroke="#000">Náraz větru</text>
<rect x="510" y="9" width="11" height="2" fill="#666666" shape-rendering="crispEdges"/>
<text x="525" y="12" fill="#000" stroke="#000">Směr větru</text>
<rect x="585" y="9" width="11" height="2" fill="#ffff00" shape-rendering="crispEdges"/>
<text x="600" y="12" fill="#ffff00" stroke="#ffff00">UV index</text>
<rect x="650" y="9" width="11" height="2" fill="#ff7f00" shape-rendering="crispEdges"/>
<text x="665" y="12" fill="#ff7f00" stroke="#ff7f00">Solar</text>
<text x="80" y="27" fill="#000" stroke="#000">max</text>
<text x="100" y="27" fill="#ff0000" stroke="#ff0000">14.0°C  91%  1008.5hPa</text>
<text x="225" y="27" fill="#00bfff" stroke="#00bfff">0.0mm</text>
<text x="80" y="37" fill="#000" stroke="#000">min</text>
<text x="105" y="37" fill="#0000cd" stroke="#0000cd">4.7°C  48%  1003.6hPa</text>
<text x="80" y="47" fill="#000" stroke="#000">avg 10.3°C</text>
<text x="499" y="27" fill="#000" stroke="#000">WS:4m/s</text>
<text x="569" y="27" fill="#000" stroke="#000">WG:7.2m/s</text>
<text x="499" y="37" fill="#000" stroke="#000">Východ:05:48</text>
<text x="569" y="37" fill="#000" stroke="#000">Západ:19:57</text>
<text x="415" y="50.9" fill="#000" stroke="#000" class="t">22.04.2012</text>
<g fill="#000" shape-rendering="crispEdges"><rect x="0" y="0" width="900" height="1"/><rect x="0" y="0" width="1" height="400"/><rect x="899" y="0" width="1" height="400"/><rect x="0" y="399" width="900" height="1"/></g>
</svg></body></html>
